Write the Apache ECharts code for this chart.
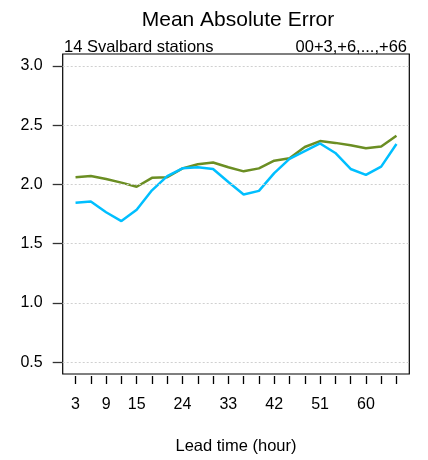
<!DOCTYPE html>
<html>
<head>
<meta charset="utf-8">
<script src="https://cdn.jsdelivr.net/npm/echarts@6/dist/echarts.min.js"></script>
<style>
html,body{margin:0;padding:0;background:#fff;}
#chart{width:428px;height:460px;}
</style>
</head>
<body>
<div id="chart"></div>
<script>
const leadTimes = [3,6,9,12,15,18,21,24,27,30,33,36,39,42,45,48,51,54,57,60,63,66];
const xLabelValues = [3,9,15,24,33,42,51,60];
const yTickValues = [0.5,1.0,1.5,2.0,2.5,3.0];
const seriesGreen = [2.06,2.07,2.045,2.015,1.98,2.055,2.06,2.135,2.17,2.185,2.145,2.11,2.135,2.2,2.22,2.315,2.365,2.35,2.33,2.305,2.32,2.41];
const seriesBlue = [1.845,1.855,1.765,1.69,1.785,1.95,2.07,2.135,2.145,2.13,2.02,1.915,1.945,2.095,2.215,2.28,2.345,2.265,2.13,2.08,2.15,2.34];
const titleText = 'Mean Absolute Error';
const subLeft = '14 Svalbard stations';
const subRight = '00+3,+6,...,+66';
const xName = 'Lead time (hour)';

const font = 'Liberation Sans, Arial, Helvetica, sans-serif';
const chart = echarts.init(document.getElementById('chart'), null, {renderer:'canvas'});
const pair = (arr) => leadTimes.map((t,i)=>[t,arr[i]]);

chart.setOption({
  animation:false,
  backgroundColor:'#fff',
  title:[
    {text:titleText,left:233,top:5,textAlign:'center',textStyle:{fontFamily:font,fontSize:21,fontWeight:'normal',color:'#000'}},
    {text:subLeft,left:59,top:34,textStyle:{fontFamily:font,fontSize:16.5,fontWeight:'normal',color:'#000'}},
    {text:subRight,right:16,top:34,textStyle:{fontFamily:font,fontSize:16.5,fontWeight:'normal',color:'#000'}}
  ],
  grid:{left:62.7,right:18.7,top:54,bottom:85.3,show:true,borderColor:'#000',borderWidth:1.2,backgroundColor:'transparent'},
  xAxis:{
    type:'value',min:0.48,max:68.52,offset:2,
    name:xName,nameLocation:'middle',nameGap:62,
    nameTextStyle:{fontFamily:font,fontSize:16.5,color:'#000'},
    axisLine:{show:false},
    axisTick:{show:true,length:8,customValues:leadTimes,lineStyle:{color:'#000',width:1.3}},
    axisLabel:{customValues:xLabelValues,margin:21,fontFamily:font,fontSize:16,color:'#000'},
    splitLine:{show:false}
  },
  yAxis:{
    type:'value',min:0.4,max:3.1,
    axisLine:{show:false},
    axisTick:{show:true,length:10,customValues:yTickValues,lineStyle:{color:'#333',width:1.3}},
    axisLabel:{customValues:yTickValues,margin:20,fontFamily:font,fontSize:16,color:'#000',formatter:(v)=>v.toFixed(1)},
    splitLine:{show:false}
  },
  series:[
    {
      type:'line',data:pair(seriesGreen),symbol:'none',
      lineStyle:{color:'#6B8E23',width:2.5},
      markLine:{
        silent:true,symbol:['none','none'],label:{show:false},
        lineStyle:{color:'#d0d0d0',type:[2,2],width:1},
        data:yTickValues.map(v=>({yAxis:v}))
      },
      z:2
    },
    {
      type:'line',data:pair(seriesBlue),symbol:'none',
      lineStyle:{color:'#00BFFF',width:2.5},
      z:3
    }
  ]
});
</script>
</body>
</html>
